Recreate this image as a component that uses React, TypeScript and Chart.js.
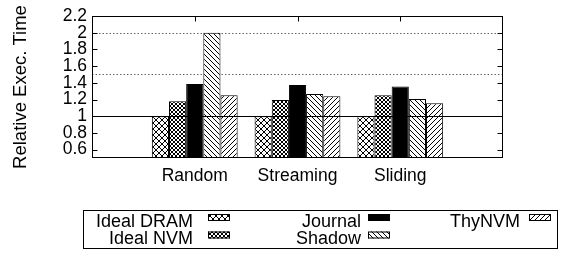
import React, { useEffect, useRef } from 'react';
import { Chart, registerables } from 'chart.js';

Chart.register(...registerables);

const categories = ['', 'Random', 'Streaming', 'Sliding', ''];
const seriesNames = ['Ideal DRAM', 'Ideal NVM', 'Journal', 'Shadow', 'ThyNVM'];
const idealDram = [null, 1.0, 1.0, 1.0, null];
const idealNvm = [null, 1.18, 1.195, 1.25, null];
const journal = [null, 1.385, 1.375, 1.355, null];
const shadow = [null, 2.0, 1.265, 1.205, null];
const thyNvm = [null, 1.25, 1.24, 1.155, null];
const yTicks = [0.6, 0.8, 1.0, 1.2, 1.4, 1.6, 1.8, 2.0, 2.2];
const dottedLines = [2.0, 1.5];
const solidLines = [1.0];
const patternKinds = ['cross', 'dense', 'solid', 'back', 'fwd'];

const FONT = '"Liberation Sans", Arial, sans-serif';

function makePattern(kind: string): CanvasPattern | string {
  if (kind === 'solid') return '#000';
  const s = kind === 'cross' ? 6 : kind === 'dense' ? 4 : 5;
  const c = document.createElement('canvas');
  c.width = s;
  c.height = s;
  const g = c.getContext('2d')!;
  g.fillStyle = '#fff';
  g.fillRect(0, 0, s, s);
  g.strokeStyle = '#000';
  g.lineWidth = 1;
  const back = () => {
    for (const k of [-s, 0, s]) {
      g.beginPath();
      g.moveTo(k, 0);
      g.lineTo(k + s, s);
      g.stroke();
    }
  };
  const fwd = () => {
    for (const k of [-s, 0, s]) {
      g.beginPath();
      g.moveTo(k, s);
      g.lineTo(k + s, 0);
      g.stroke();
    }
  };
  if (kind === 'back') back();
  else if (kind === 'fwd') fwd();
  else {
    back();
    fwd();
  }
  return g.createPattern(c, 'repeat')!;
}

export default function App() {
  const ref = useRef<HTMLCanvasElement | null>(null);

  useEffect(() => {
    const canvas = ref.current!;
    const fills = patternKinds.map(makePattern);
    const values = [idealDram, idealNvm, journal, shadow, thyNvm];

    const framePlugin = {
      id: 'frame',
      beforeDatasetsDraw(chart: any) {
        const { ctx, chartArea } = chart;
        const y = chart.scales.y;
        ctx.save();
        ctx.strokeStyle = '#666';
        ctx.lineWidth = 1;
        ctx.setLineDash([1.5, 2]);
        for (const v of dottedLines) {
          const py = Math.round(y.getPixelForValue(v)) + 0.5;
          ctx.beginPath();
          ctx.moveTo(chartArea.left, py);
          ctx.lineTo(chartArea.right, py);
          ctx.stroke();
        }
        ctx.restore();
      },
      afterDatasetsDraw(chart: any) {
        const { ctx, chartArea } = chart;
        const y = chart.scales.y;
        const x = chart.scales.x;
        const L = Math.round(chartArea.left) + 0.5;
        const R = Math.round(chartArea.right) - 0.5;
        const T = Math.round(chartArea.top) + 0.5;
        const B = Math.round(chartArea.bottom) - 0.5;
        ctx.save();
        ctx.strokeStyle = '#000';
        ctx.lineWidth = 1;
        for (const v of solidLines) {
          const py = Math.round(y.getPixelForValue(v)) + 0.5;
          ctx.beginPath();
          ctx.moveTo(L, py);
          ctx.lineTo(R, py);
          ctx.stroke();
        }
        ctx.strokeRect(L, T, R - L, B - T);
        const tl = 5;
        for (const v of yTicks) {
          const py = Math.round(y.getPixelForValue(v)) + 0.5;
          ctx.beginPath();
          ctx.moveTo(L, py);
          ctx.lineTo(L + tl, py);
          ctx.moveTo(R, py);
          ctx.lineTo(R - tl, py);
          ctx.stroke();
        }
        categories.forEach((c, i) => {
          if (!c) return;
          const px = Math.round(x.getPixelForValue(i)) + 0.5;
          ctx.beginPath();
          ctx.moveTo(px, T);
          ctx.lineTo(px, T + tl);
          ctx.moveTo(px, B);
          ctx.lineTo(px, B - tl);
          ctx.stroke();
        });
        ctx.restore();
      },
      afterDraw(chart: any) {
        const { ctx } = chart;
        ctx.save();
        ctx.strokeStyle = '#000';
        ctx.lineWidth = 1;
        ctx.strokeRect(83.5, 210.5, 474, 38);
        const textRight = [193, 361, 520];
        const sampleX = [208, 368, 529];
        const baseY = [227, 243.5];
        const sampleY = [214, 231.5];
        ctx.font = `18px ${FONT}`;
        ctx.fillStyle = '#000';
        ctx.textAlign = 'right';
        ctx.textBaseline = 'alphabetic';
        seriesNames.forEach((name, i) => {
          const col = Math.floor(i / 2);
          const row = i % 2;
          ctx.fillStyle = '#000';
          ctx.fillText(name, textRight[col], baseY[row]);
          ctx.fillStyle = fills[i] as any;
          ctx.fillRect(sampleX[col], sampleY[row], 22, 7);
          ctx.strokeRect(sampleX[col] + 0.5, sampleY[row] + 0.5, 21, 6);
        });
        ctx.restore();
      },
    };

    const chart = new Chart(canvas, {
      type: 'bar',
      data: {
        labels: categories,
        datasets: seriesNames.map((name, i) => ({
          label: name,
          data: values[i] as any,
          backgroundColor: fills[i] as any,
          borderColor: '#000',
          borderWidth: 1,
          categoryPercentage: 0.835,
          barPercentage: 1,
        })),
      },
      options: {
        responsive: false,
        animation: false,
        layout: { padding: { left: 0, right: 63, top: 16, bottom: 0 } },
        plugins: { legend: { display: false }, tooltip: { enabled: false } },
        scales: {
          x: {
            type: 'category',
            offset: false,
            grid: { display: false, drawTicks: false },
            border: { display: false },
            ticks: {
              autoSkip: false,
              maxRotation: 0,
              color: '#000',
              padding: 8,
              font: { family: FONT, size: 17.5 },
            },
            afterFit: (s: any) => {
              s.height = 95;
            },
          },
          y: {
            type: 'linear',
            min: 0.5,
            max: 2.2,
            grid: { display: false, drawTicks: false },
            border: { display: false },
            afterBuildTicks: (s: any) => {
              s.ticks = yTicks.map((v) => ({ value: v }));
            },
            ticks: {
              autoSkip: false,
              color: '#000',
              padding: 5,
              font: { family: FONT, size: 17.5 },
              callback: (v: any) => Number(v).toFixed(1).replace(/\.0$/, ''),
            },
            title: {
              display: true,
              text: 'Relative Exec. Time',
              color: '#000',
              font: { family: FONT, size: 18.5 },
              padding: { top: 10, bottom: 0 },
            },
            afterFit: (s: any) => {
              s.width = 92;
            },
          },
        },
      },
      plugins: [framePlugin],
    });
    return () => chart.destroy();
  }, []);

  return (
    <div style={{ position: 'absolute', left: 0, top: 0, width: 566, height: 253, background: '#fff' }}>
      <canvas ref={ref} width={566} height={253} style={{ display: 'block' }} />
    </div>
  );
}
